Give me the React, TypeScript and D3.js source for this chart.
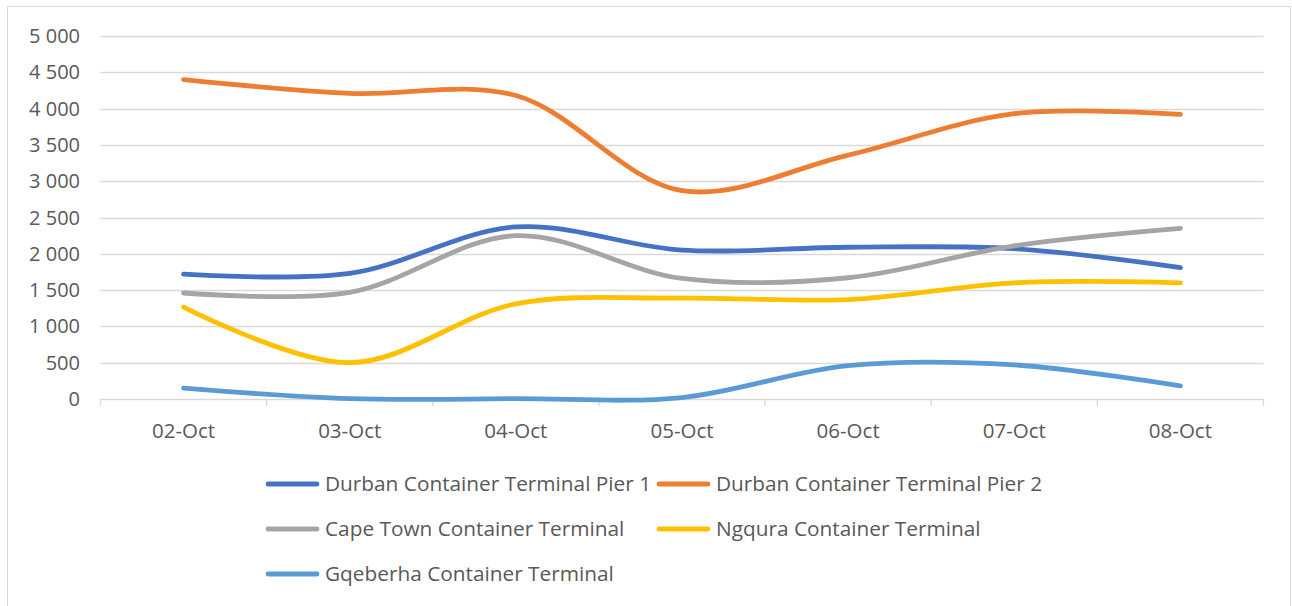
import React from "react";
import * as d3 from "d3";

const categories = ["02-Oct", "03-Oct", "04-Oct", "05-Oct", "06-Oct", "07-Oct", "08-Oct"];
const seriesNames = [
  "Durban Container Terminal Pier 1",
  "Durban Container Terminal Pier 2",
  "Cape Town Container Terminal",
  "Ngqura Container Terminal",
  "Gqeberha Container Terminal",
];
const pier1 = [1720, 1730, 2370, 2050, 2090, 2070, 1810];
const pier2 = [4400, 4210, 4180, 2870, 3360, 3930, 3920];
const capeTown = [1460, 1470, 2250, 1660, 1670, 2110, 2350];
const ngqura = [1265, 500, 1310, 1390, 1370, 1600, 1600];
const gqeberha = [150, 5, 5, 20, 460, 470, 180];
const yTicks = [0, 500, 1000, 1500, 2000, 2500, 3000, 3500, 4000, 4500, 5000];
const colors = ["#4472C4", "#ED7D31", "#A5A5A5", "#FFC000", "#5B9BD5"];

const allSeries = [pier1, pier2, capeTown, ngqura, gqeberha];

const W = 1292;
const H = 606;
const left = 100.5;
const right = 1263.5;
const top = 36;
const bottom = 399;

const x = d3.scaleBand<string>().domain(categories).range([left, right]).padding(0);
const y = d3.scaleLinear().domain([0, 5000]).range([bottom, top]);

const fmt = (v: number) => {
  const s = String(v);
  return s.length > 3 ? s.slice(0, s.length - 3) + " " + s.slice(-3) : s;
};

const line = d3
  .line<number>()
  .x((_, i) => (x(categories[i]) as number) + x.bandwidth() / 2)
  .y((d) => y(d))
  .curve(d3.curveCatmullRom.alpha(0.5));

const FONT = "'Open Sans', Lato, sans-serif";
const TEXT = "#595959";

const legendItems = [
  { i: 0, lx: 266, ly: 484 },
  { i: 1, lx: 657, ly: 484 },
  { i: 2, lx: 266, ly: 529 },
  { i: 3, lx: 657, ly: 529 },
  { i: 4, lx: 266, ly: 574 },
];

export default function App() {
  const ticksX = d3.range(categories.length + 1).map((k) => left + k * x.bandwidth());
  return (
    <svg
      width={W}
      height={H}
      style={{ position: "absolute", left: 0, top: 0, background: "#fff" }}
      fontFamily={FONT}
    >
      <path d={`M7.5,${H} V6.5 H1290.5 V${H}`} fill="none" stroke="#D9D9D9" strokeWidth={1} />
      {yTicks.map((t) => (
        <g key={t}>
          {t > 0 && (
            <line x1={left} x2={right} y1={Math.round(y(t)) + 0.5} y2={Math.round(y(t)) + 0.5} stroke="#D9D9D9" strokeWidth={1.3} />
          )}
          <text x={80} y={y(t)} dy="0.35em" textAnchor="end" fontSize={20} fill={TEXT}>
            {fmt(t)}
          </text>
        </g>
      ))}
      <line x1={left} x2={right} y1={bottom + 0.5} y2={bottom + 0.5} stroke="#D9D9D9" strokeWidth={1.3} />
      {ticksX.map((tx, k) => (
        <line key={k} x1={tx} x2={tx} y1={bottom} y2={bottom + 7} stroke="#D9D9D9" strokeWidth={1.3} />
      ))}
      {categories.map((c) => (
        <text
          key={c}
          x={(x(c) as number) + x.bandwidth() / 2}
          y={431}
          dy="0.35em"
          textAnchor="middle"
          fontSize={20.5}
          fill={TEXT}
        >
          {c}
        </text>
      ))}
      {allSeries.map((s, i) => (
        <path
          key={i}
          d={line(s) || ""}
          fill="none"
          stroke={colors[i]}
          strokeWidth={4.8}
          strokeLinecap="round"
          strokeLinejoin="round"
        />
      ))}
      {legendItems.map(({ i, lx, ly }) => (
        <g key={i}>
          <line x1={lx + 2} x2={lx + 51} y1={ly} y2={ly} stroke={colors[i]} strokeWidth={4.8} strokeLinecap="round" />
          <text x={lx + 59} y={ly} dy="0.35em" fontSize={20.8} fill={TEXT}>
            {seriesNames[i]}
          </text>
        </g>
      ))}
    </svg>
  );
}
